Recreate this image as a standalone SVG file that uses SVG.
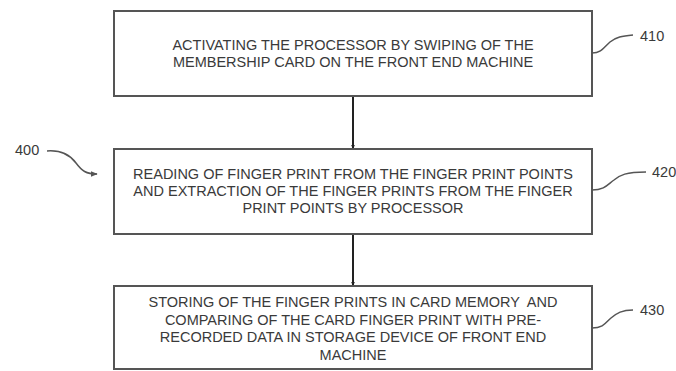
<svg xmlns="http://www.w3.org/2000/svg" width="676" height="371" viewBox="0 0 676 371">
<style>
.box{fill:#fff;stroke:#555;stroke-width:2}
.t{font-family:"Liberation Sans",Arial,sans-serif;font-size:14.5px;fill:#3a3a3a;text-anchor:middle}
.lbl{font-family:"Liberation Sans",Arial,sans-serif;font-size:14.5px;fill:#3a3a3a}
.sq{fill:none;stroke:#555;stroke-width:1.5}
.conn{fill:none;stroke:#222;stroke-width:2}
</style>
<defs>
<marker id="ah" viewBox="0 0 10 10" refX="9" refY="5" markerWidth="5" markerHeight="5" orient="auto" markerUnits="userSpaceOnUse">
<path d="M0,1 L10,5 L0,9 z" fill="#222"/>
</marker>
<marker id="ah2" viewBox="0 0 10 10" refX="9" refY="5" markerWidth="7" markerHeight="7" orient="auto" markerUnits="userSpaceOnUse">
<path d="M0,1 L10,5 L0,9 z" fill="#555"/>
</marker>
</defs>
<g id="connectors">
<line class="conn" x1="353" y1="96" x2="353" y2="149" marker-end="url(#ah)"/>
<line class="conn" x1="353" y1="234" x2="353" y2="286" marker-end="url(#ah)"/>
</g>
<g id="n410">
<rect class="box" x="114" y="11" width="478" height="85"/>
<text class="t" x="353" y="50">ACTIVATING THE PROCESSOR BY SWIPING OF THE</text>
<text class="t" x="353" y="67">MEMBERSHIP CARD ON THE FRONT END MACHINE</text>
</g>
<g id="n420">
<rect class="box" x="114" y="149" width="478" height="85"/>
<text class="t" x="353" y="179">READING OF FINGER PRINT FROM THE FINGER PRINT POINTS</text>
<text class="t" x="353" y="196">AND EXTRACTION OF THE FINGER PRINTS FROM THE FINGER</text>
<text class="t" x="353" y="213">PRINT POINTS BY PROCESSOR</text>
</g>
<g id="n430">
<rect class="box" x="114" y="286" width="478" height="83"/>
<text class="t" x="353" y="307" xml:space="preserve">STORING OF THE FINGER PRINTS IN CARD MEMORY  AND</text>
<text class="t" x="353" y="324.5">COMPARING OF THE CARD FINGER PRINT WITH PRE-</text>
<text class="t" x="353" y="342">RECORDED DATA IN STORAGE DEVICE OF FRONT END</text>
<text class="t" x="353" y="359.5">MACHINE</text>
</g>
<g id="labels">
<path class="sq" d="M592,53 C602,53 604,47 610,42 C616,37 622,36 633,35"/>
<text class="lbl" x="640" y="41">410</text>
<path class="sq" d="M592,190 C605,190 608,184 614,180 C620,175 626,172 646,172"/>
<text class="lbl" x="652" y="177">420</text>
<path class="sq" d="M592,328 C604,328 606,322 611,318 C617,313 622,310 633,310"/>
<text class="lbl" x="640" y="315">430</text>
<path class="sq" d="M47,151 C60,150 70,155 76,163 C82,171 86,174 97,174" marker-end="url(#ah2)"/>
<text class="lbl" x="15" y="155">400</text>
</g>
</svg>
